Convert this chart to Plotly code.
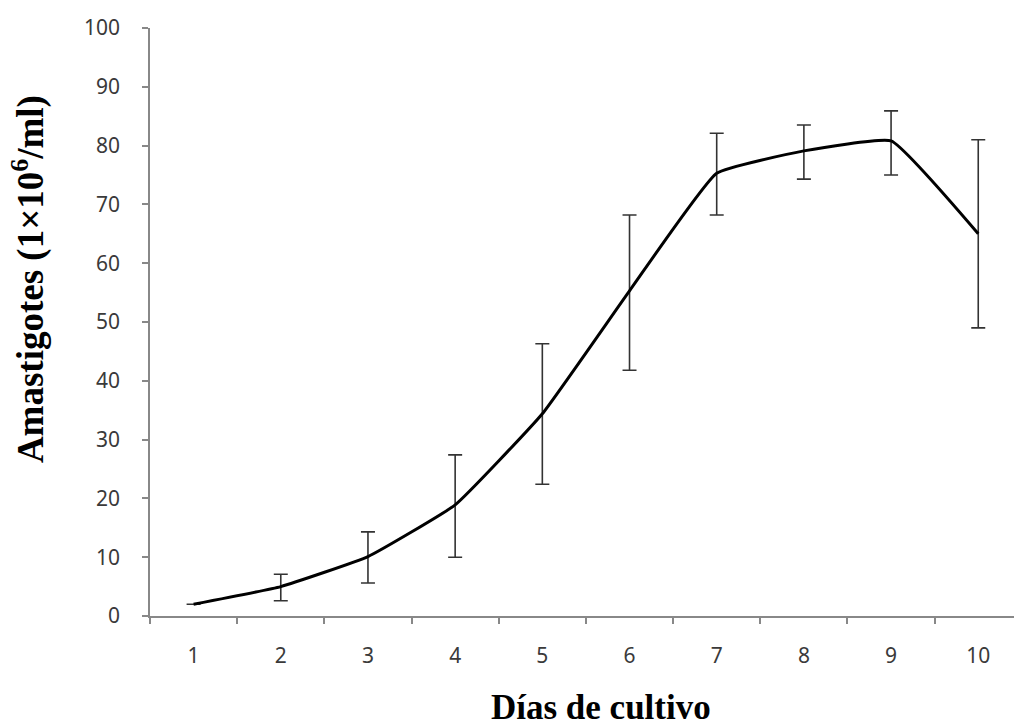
import plotly.graph_objects as go

days = [1, 2, 3, 4, 5, 6, 7, 8, 9, 10]
day_labels = ["1", "2", "3", "4", "5", "6", "7", "8", "9", "10"]
amastigotes = [2.0, 5.0, 10.1, 18.9, 34.4, 55.3, 75.3, 79.1, 80.8, 65.0]
err_plus = [0.0, 2.1, 4.2, 8.5, 11.9, 12.9, 6.8, 4.4, 5.1, 16.0]
err_minus = [0.0, 2.4, 4.5, 8.9, 12.0, 13.5, 7.1, 4.8, 5.8, 16.0]
y_ticks = [0, 10, 20, 30, 40, 50, 60, 70, 80, 90, 100]
boundary_ticks = [0.5, 1.5, 2.5, 3.5, 4.5, 5.5, 6.5, 7.5, 8.5, 9.5]

axis_col = "#888888"
tick_font = dict(family="Noto Sans", size=21, color="#3a3a3a")

fig = go.Figure()
fig.add_trace(go.Scatter(
    x=days, y=amastigotes, mode="lines",
    line=dict(color="black", width=3, shape="spline", smoothing=0.35),
    error_y=dict(type="data", symmetric=False, array=err_plus, arrayminus=err_minus,
                 color="#333333", thickness=1.6, width=7),
    showlegend=False,
))

fig.update_layout(
    width=1014, height=727,
    margin=dict(l=150, r=0, t=28, b=111),
    paper_bgcolor="white", plot_bgcolor="white",
    xaxis=dict(
        range=[0.5, 10.41], tickmode="array", tickvals=days, ticktext=day_labels,
        ticks="outside", ticklen=0, tickfont=tick_font, ticklabelstandoff=20,
        showline=True, linecolor=axis_col, linewidth=1.5, showgrid=False, zeroline=False,
        minor=dict(tickmode="array", tickvals=boundary_ticks, ticks="outside",
                   ticklen=6, tickcolor=axis_col, tickwidth=1.5, showgrid=False),
    ),
    yaxis=dict(
        range=[0, 100], tickmode="array", tickvals=y_ticks,
        ticks="outside", ticklen=6, tickcolor=axis_col, tickwidth=1.5,
        tickfont=tick_font, ticklabelstandoff=18,
        showline=True, linecolor=axis_col, linewidth=1.5, showgrid=False, zeroline=False,
    ),
    annotations=[
        dict(text="<b>Amastigotes (1×10<sup>6</sup>/ml)</b>", xref="paper", yref="paper",
             x=-0.14, y=0.573, textangle=-90, showarrow=False, xanchor="center", yanchor="middle",
             font=dict(family="Liberation Serif", size=37, color="black")),
        dict(text="<b>Días de cultivo</b>", xref="paper", yref="paper",
             x=0.522, y=-0.155, showarrow=False, xanchor="center", yanchor="middle",
             font=dict(family="Liberation Serif", size=35, color="black")),
    ],
)

fig.write_html("out.html")
